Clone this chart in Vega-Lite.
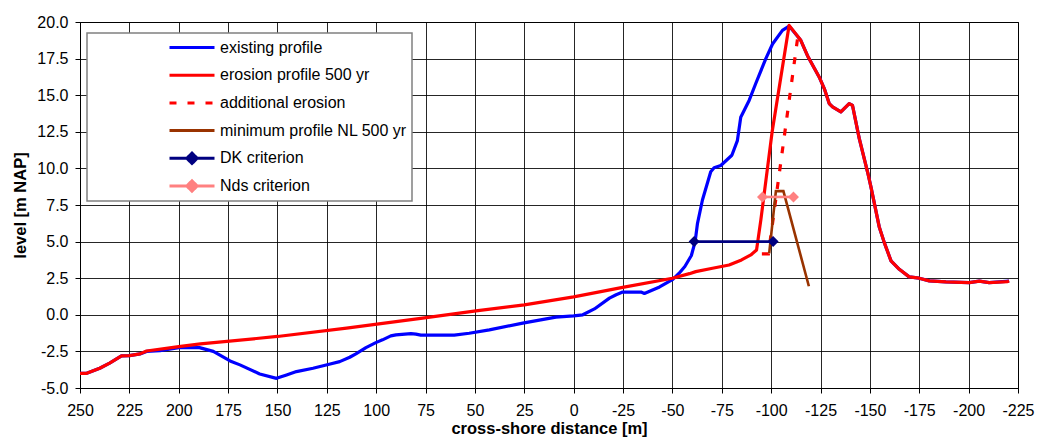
{
  "$schema": "https://vega.github.io/schema/vega-lite/v6.json",
  "autosize": {"type": "none"},
  "width": 938,
  "height": 366,
  "padding": {"left": 80, "top": 22, "right": 20, "bottom": 55},
  "background": "#ffffff",
  "config": {
    "font": "Liberation Sans",
    "view": {"stroke": "#000000", "strokeWidth": 1},
    "axis": {
      "labelFont": "Liberation Sans",
      "labelFontSize": 16,
      "labelColor": "#000000",
      "titleFont": "Liberation Sans",
      "titleFontSize": 16.5,
      "titleFontWeight": "bold",
      "titleColor": "#000000",
      "domainColor": "#000000",
      "tickColor": "#000000",
      "tickSize": 5,
      "gridColor": "#000000",
      "gridOpacity": 0.85,
      "gridWidth": 1
    }
  },
  "datasets": {
    "profiles": [
      {"series": "existing profile", "i": 1, "x": 250, "y": -4.0},
      {"series": "existing profile", "i": 2, "x": 246.6, "y": -4.0},
      {"series": "existing profile", "i": 3, "x": 240, "y": -3.65},
      {"series": "existing profile", "i": 4, "x": 235, "y": -3.3},
      {"series": "existing profile", "i": 5, "x": 229, "y": -2.81},
      {"series": "existing profile", "i": 6, "x": 225, "y": -2.79},
      {"series": "existing profile", "i": 7, "x": 219.6, "y": -2.67},
      {"series": "existing profile", "i": 8, "x": 216.3, "y": -2.5},
      {"series": "existing profile", "i": 9, "x": 209.5, "y": -2.45},
      {"series": "existing profile", "i": 10, "x": 200, "y": -2.25},
      {"series": "existing profile", "i": 11, "x": 189.5, "y": -2.24},
      {"series": "existing profile", "i": 12, "x": 182.5, "y": -2.5},
      {"series": "existing profile", "i": 13, "x": 174, "y": -3.15},
      {"series": "existing profile", "i": 14, "x": 169, "y": -3.42},
      {"series": "existing profile", "i": 15, "x": 159, "y": -4.04},
      {"series": "existing profile", "i": 16, "x": 150.5, "y": -4.34},
      {"series": "existing profile", "i": 17, "x": 145.4, "y": -4.11},
      {"series": "existing profile", "i": 18, "x": 140.4, "y": -3.88},
      {"series": "existing profile", "i": 19, "x": 132, "y": -3.65},
      {"series": "existing profile", "i": 20, "x": 123.8, "y": -3.38},
      {"series": "existing profile", "i": 21, "x": 118.5, "y": -3.2},
      {"series": "existing profile", "i": 22, "x": 113.4, "y": -2.9},
      {"series": "existing profile", "i": 23, "x": 110.3, "y": -2.67},
      {"series": "existing profile", "i": 24, "x": 105.2, "y": -2.24},
      {"series": "existing profile", "i": 25, "x": 100.2, "y": -1.9},
      {"series": "existing profile", "i": 26, "x": 96.8, "y": -1.71},
      {"series": "existing profile", "i": 27, "x": 92.6, "y": -1.44},
      {"series": "existing profile", "i": 28, "x": 90, "y": -1.37},
      {"series": "existing profile", "i": 29, "x": 82.4, "y": -1.28},
      {"series": "existing profile", "i": 30, "x": 79.9, "y": -1.32},
      {"series": "existing profile", "i": 31, "x": 77.4, "y": -1.39},
      {"series": "existing profile", "i": 32, "x": 60.5, "y": -1.39},
      {"series": "existing profile", "i": 33, "x": 52.9, "y": -1.26},
      {"series": "existing profile", "i": 34, "x": 42.7, "y": -1.03},
      {"series": "existing profile", "i": 35, "x": 25.8, "y": -0.57},
      {"series": "existing profile", "i": 36, "x": 9, "y": -0.16},
      {"series": "existing profile", "i": 37, "x": 0, "y": -0.07},
      {"series": "existing profile", "i": 38, "x": -4.6, "y": 0.0},
      {"series": "existing profile", "i": 39, "x": -10.5, "y": 0.4},
      {"series": "existing profile", "i": 40, "x": -18.1, "y": 1.14},
      {"series": "existing profile", "i": 41, "x": -21.5, "y": 1.37},
      {"series": "existing profile", "i": 42, "x": -24.8, "y": 1.55},
      {"series": "existing profile", "i": 43, "x": -34.1, "y": 1.55},
      {"series": "existing profile", "i": 44, "x": -35.8, "y": 1.46},
      {"series": "existing profile", "i": 45, "x": -43.5, "y": 1.9},
      {"series": "existing profile", "i": 46, "x": -50.2, "y": 2.42},
      {"series": "existing profile", "i": 47, "x": -53.4, "y": 2.84},
      {"series": "existing profile", "i": 48, "x": -56.3, "y": 3.3},
      {"series": "existing profile", "i": 49, "x": -59.6, "y": 4.05},
      {"series": "existing profile", "i": 50, "x": -61.5, "y": 5.0},
      {"series": "existing profile", "i": 51, "x": -62.7, "y": 6.25},
      {"series": "existing profile", "i": 52, "x": -65.2, "y": 7.84},
      {"series": "existing profile", "i": 53, "x": -69.4, "y": 9.77},
      {"series": "existing profile", "i": 54, "x": -71.1, "y": 10.05},
      {"series": "existing profile", "i": 55, "x": -74.5, "y": 10.2},
      {"series": "existing profile", "i": 56, "x": -80.1, "y": 10.9},
      {"series": "existing profile", "i": 57, "x": -82.9, "y": 11.9},
      {"series": "existing profile", "i": 58, "x": -84.6, "y": 13.5},
      {"series": "existing profile", "i": 59, "x": -88.9, "y": 14.66},
      {"series": "existing profile", "i": 60, "x": -92.2, "y": 15.8},
      {"series": "existing profile", "i": 61, "x": -97.3, "y": 17.5},
      {"series": "existing profile", "i": 62, "x": -100.7, "y": 18.5},
      {"series": "existing profile", "i": 63, "x": -105.7, "y": 19.43},
      {"series": "existing profile", "i": 64, "x": -109.1, "y": 19.72},
      {"series": "existing profile", "i": 65, "x": -115, "y": 18.75},
      {"series": "existing profile", "i": 66, "x": -118.4, "y": 17.7},
      {"series": "existing profile", "i": 67, "x": -124.3, "y": 16.25},
      {"series": "existing profile", "i": 68, "x": -126.9, "y": 15.45},
      {"series": "existing profile", "i": 69, "x": -129.4, "y": 14.43},
      {"series": "existing profile", "i": 70, "x": -131.1, "y": 14.2},
      {"series": "existing profile", "i": 71, "x": -135.3, "y": 13.86},
      {"series": "existing profile", "i": 72, "x": -139.5, "y": 14.43},
      {"series": "existing profile", "i": 73, "x": -141.2, "y": 14.3},
      {"series": "existing profile", "i": 74, "x": -144.6, "y": 12.05},
      {"series": "existing profile", "i": 75, "x": -148.8, "y": 9.77},
      {"series": "existing profile", "i": 76, "x": -150.5, "y": 8.75},
      {"series": "existing profile", "i": 77, "x": -154.7, "y": 6.02},
      {"series": "existing profile", "i": 78, "x": -157.3, "y": 4.93},
      {"series": "existing profile", "i": 79, "x": -160.7, "y": 3.68},
      {"series": "existing profile", "i": 80, "x": -164.9, "y": 3.11},
      {"series": "existing profile", "i": 81, "x": -169.9, "y": 2.59},
      {"series": "existing profile", "i": 82, "x": -175, "y": 2.5},
      {"series": "existing profile", "i": 83, "x": -180.1, "y": 2.32},
      {"series": "existing profile", "i": 84, "x": -188.5, "y": 2.25},
      {"series": "existing profile", "i": 85, "x": -200.3, "y": 2.2},
      {"series": "existing profile", "i": 86, "x": -205.4, "y": 2.3},
      {"series": "existing profile", "i": 87, "x": -210.4, "y": 2.2},
      {"series": "existing profile", "i": 88, "x": -220.5, "y": 2.3},

      {"series": "erosion profile 500 yr", "i": 1, "x": 250, "y": -4.0},
      {"series": "erosion profile 500 yr", "i": 2, "x": 246.6, "y": -4.0},
      {"series": "erosion profile 500 yr", "i": 3, "x": 240, "y": -3.65},
      {"series": "erosion profile 500 yr", "i": 4, "x": 235, "y": -3.3},
      {"series": "erosion profile 500 yr", "i": 5, "x": 229, "y": -2.81},
      {"series": "erosion profile 500 yr", "i": 6, "x": 225, "y": -2.79},
      {"series": "erosion profile 500 yr", "i": 7, "x": 219.6, "y": -2.67},
      {"series": "erosion profile 500 yr", "i": 8, "x": 216.3, "y": -2.47},
      {"series": "erosion profile 500 yr", "i": 9, "x": 200, "y": -2.17},
      {"series": "erosion profile 500 yr", "i": 10, "x": 189, "y": -1.99},
      {"series": "erosion profile 500 yr", "i": 11, "x": 150, "y": -1.48},
      {"series": "erosion profile 500 yr", "i": 12, "x": 115, "y": -0.91},
      {"series": "erosion profile 500 yr", "i": 13, "x": 76.5, "y": -0.23},
      {"series": "erosion profile 500 yr", "i": 14, "x": 49.5, "y": 0.27},
      {"series": "erosion profile 500 yr", "i": 15, "x": 25, "y": 0.68},
      {"series": "erosion profile 500 yr", "i": 16, "x": 0, "y": 1.22},
      {"series": "erosion profile 500 yr", "i": 17, "x": -24.8, "y": 1.87},
      {"series": "erosion profile 500 yr", "i": 18, "x": -50, "y": 2.5},
      {"series": "erosion profile 500 yr", "i": 19, "x": -58.6, "y": 2.81},
      {"series": "erosion profile 500 yr", "i": 20, "x": -61.8, "y": 2.95},
      {"series": "erosion profile 500 yr", "i": 21, "x": -70.3, "y": 3.18},
      {"series": "erosion profile 500 yr", "i": 22, "x": -78.7, "y": 3.4},
      {"series": "erosion profile 500 yr", "i": 23, "x": -85, "y": 3.75},
      {"series": "erosion profile 500 yr", "i": 24, "x": -89.7, "y": 4.09},
      {"series": "erosion profile 500 yr", "i": 25, "x": -92.6, "y": 4.43},
      {"series": "erosion profile 500 yr", "i": 26, "x": -94.8, "y": 6.5},
      {"series": "erosion profile 500 yr", "i": 27, "x": -100.5, "y": 12.5},
      {"series": "erosion profile 500 yr", "i": 28, "x": -109.1, "y": 19.77},
      {"series": "erosion profile 500 yr", "i": 29, "x": -115, "y": 18.75},
      {"series": "erosion profile 500 yr", "i": 30, "x": -118.4, "y": 17.7},
      {"series": "erosion profile 500 yr", "i": 31, "x": -124.3, "y": 16.25},
      {"series": "erosion profile 500 yr", "i": 32, "x": -126.9, "y": 15.45},
      {"series": "erosion profile 500 yr", "i": 33, "x": -129.4, "y": 14.43},
      {"series": "erosion profile 500 yr", "i": 34, "x": -131.1, "y": 14.2},
      {"series": "erosion profile 500 yr", "i": 35, "x": -135.3, "y": 13.86},
      {"series": "erosion profile 500 yr", "i": 36, "x": -139.5, "y": 14.43},
      {"series": "erosion profile 500 yr", "i": 37, "x": -141.2, "y": 14.3},
      {"series": "erosion profile 500 yr", "i": 38, "x": -144.6, "y": 12.05},
      {"series": "erosion profile 500 yr", "i": 39, "x": -148.8, "y": 9.77},
      {"series": "erosion profile 500 yr", "i": 40, "x": -150.5, "y": 8.75},
      {"series": "erosion profile 500 yr", "i": 41, "x": -154.7, "y": 6.02},
      {"series": "erosion profile 500 yr", "i": 42, "x": -157.3, "y": 4.93},
      {"series": "erosion profile 500 yr", "i": 43, "x": -160.7, "y": 3.68},
      {"series": "erosion profile 500 yr", "i": 44, "x": -164.9, "y": 3.11},
      {"series": "erosion profile 500 yr", "i": 45, "x": -169.9, "y": 2.59},
      {"series": "erosion profile 500 yr", "i": 46, "x": -175, "y": 2.5},
      {"series": "erosion profile 500 yr", "i": 47, "x": -180.1, "y": 2.32},
      {"series": "erosion profile 500 yr", "i": 48, "x": -188.5, "y": 2.25},
      {"series": "erosion profile 500 yr", "i": 49, "x": -200.3, "y": 2.2},
      {"series": "erosion profile 500 yr", "i": 50, "x": -205.4, "y": 2.3},
      {"series": "erosion profile 500 yr", "i": 51, "x": -210.4, "y": 2.2},
      {"series": "erosion profile 500 yr", "i": 52, "x": -219.7, "y": 2.27},
      {"series": "erosion profile 500 yr", "i": 53, "x": -220.5, "y": 2.32},

      {"series": "additional erosion", "i": 1, "x": -95.3, "y": 4.16},
      {"series": "additional erosion", "i": 2, "x": -98.6, "y": 4.16},
      {"series": "additional erosion", "i": 3, "x": -113.4, "y": 18.9},

      {"series": "minimum profile NL 500 yr", "i": 1, "x": -99, "y": 4.2},
      {"series": "minimum profile NL 500 yr", "i": 2, "x": -102.4, "y": 8.45},
      {"series": "minimum profile NL 500 yr", "i": 3, "x": -106.2, "y": 8.45},
      {"series": "minimum profile NL 500 yr", "i": 4, "x": -119.1, "y": 1.95},

      {"series": "DK criterion", "i": 1, "x": -61, "y": 5.0},
      {"series": "DK criterion", "i": 2, "x": -101, "y": 5.0},

      {"series": "Nds criterion", "i": 1, "x": -95.6, "y": 8.05},
      {"series": "Nds criterion", "i": 2, "x": -111.3, "y": 8.05}
    ]
  },
  "data": {"name": "profiles"},
  "encoding": {
    "x": {
      "field": "x",
      "type": "quantitative",
      "scale": {"domain": [-225, 250], "reverse": true, "nice": false, "zero": false},
      "axis": {
        "title": "cross-shore distance [m]",
        "values": [250, 225, 200, 175, 150, 125, 100, 75, 50, 25, 0, -25, -50, -75, -100, -125, -150, -175, -200, -225],
        "labelExpr": "toString(datum.value)",
        "labelFlush": false,
        "labelOverlap": false,
        "labelPadding": 9,
        "titlePadding": 2,
        "grid": true
      }
    },
    "y": {
      "field": "y",
      "type": "quantitative",
      "scale": {"domain": [-5, 20], "nice": false, "zero": false},
      "axis": {
        "title": "level [m NAP]",
        "values": [-5, -2.5, 0, 2.5, 5, 7.5, 10, 12.5, 15, 17.5, 20],
        "labelExpr": "replace(format(datum.value, '.1f'), '\u2212', '-')",
        "labelFlush": false,
        "labelOverlap": false,
        "labelPadding": 7,
        "titlePadding": 8,
        "grid": true
      }
    },
    "order": {"field": "i", "type": "quantitative"},
    "color": {
      "field": "series",
      "type": "nominal",
      "scale": {
        "domain": ["existing profile", "erosion profile 500 yr", "additional erosion", "minimum profile NL 500 yr", "DK criterion", "Nds criterion"],
        "range": ["#0000FF", "#FF0000", "#FF0000", "#993300", "#000080", "#FF8080"]
      },
      "legend": {
        "orient": "none",
        "legendX": 7,
        "legendY": 11,
        "title": null,
        "padding": 5,
        "fillColor": "#ffffff",
        "strokeColor": "#808080",
        "symbolSize": 2025,
        "symbolStrokeWidth": 3,
        "clipHeight": 19,
        "rowPadding": 8.7,
        "symbolOffset": 76,
        "labelOffset": 4,
        "labelFont": "Liberation Sans",
        "labelFontSize": 16,
        "labelColor": "#000000",
        "labelLimit": 0,
        "encode": {
          "legend": {"update": {"strokeWidth": {"value": 1.5}}},
          "symbols": {
            "update": {
              "shape": {"signal": "datum.value === 'DK criterion' || datum.value === 'Nds criterion' ? 'M-1,0L1,0M0,-0.23L0.23,0L0,0.23L-0.23,0Z' : 'M-1,0L1,0'"},
              "fill": {"signal": "scale('color', datum.value)"},
              "stroke": {"signal": "scale('color', datum.value)"},
              "strokeDash": {"signal": "datum.value === 'additional erosion' ? [7, 11] : [1, 0]"}
            }
          }
        }
      }
    }
  },
  "layer": [
    {
      "transform": [{"filter": "datum.series === 'existing profile'"}],
      "mark": {"type": "line", "strokeWidth": 3.2, "strokeJoin": "round"}
    },
    {
      "transform": [{"filter": "datum.series === 'erosion profile 500 yr'"}],
      "mark": {"type": "line", "strokeWidth": 3.2, "strokeJoin": "round"}
    },
    {
      "transform": [{"filter": "datum.series === 'additional erosion'"}],
      "mark": {"type": "line", "strokeWidth": 3.2, "strokeDash": [7, 11]}
    },
    {
      "transform": [{"filter": "datum.series === 'minimum profile NL 500 yr'"}],
      "mark": {"type": "line", "strokeWidth": 2.6}
    },
    {
      "transform": [{"filter": "datum.series === 'DK criterion'"}],
      "mark": {"type": "line", "strokeWidth": 2.6}
    },
    {
      "transform": [{"filter": "datum.series === 'DK criterion'"}],
      "mark": {"type": "point", "shape": "diamond", "filled": true, "size": 121, "opacity": 1}
    },
    {
      "transform": [{"filter": "datum.series === 'Nds criterion'"}],
      "mark": {"type": "line", "strokeWidth": 2.6}
    },
    {
      "transform": [{"filter": "datum.series === 'Nds criterion'"}],
      "mark": {"type": "point", "shape": "diamond", "filled": true, "size": 121, "opacity": 1}
    }
  ]
}
